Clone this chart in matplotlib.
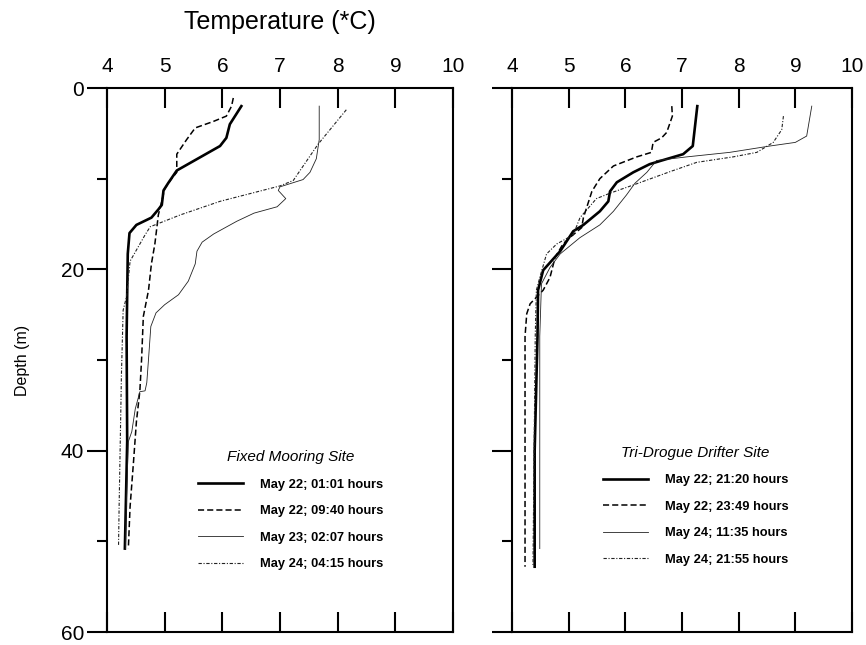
import matplotlib
matplotlib.use("Agg")
import matplotlib.pyplot as plt
from matplotlib.ticker import MultipleLocator

plt.rcParams["font.family"] = ["Liberation Sans", "DejaVu Sans"]

# ---- Fixed mooring site profiles (temperature degC, depth m) ----
fm_0101_T = [6.33, 6.22, 6.13, 6.07, 5.96, 5.21, 5.06, 4.98, 4.95, 4.89, 4.77, 4.51, 4.39, 4.36, 4.34, 4.35, 4.33, 4.31]
fm_0101_D = [2.0, 3.1, 4.0, 5.5, 6.4, 9.1, 10.5, 11.3, 12.9, 13.4, 14.3, 15.1, 16.0, 18.3, 27.4, 39.0, 45.0, 50.8]

fm_0940_T = [6.19, 6.16, 6.07, 5.84, 5.53, 5.38, 5.21, 5.21, 5.12, 5.00, 4.95, 4.89, 4.87, 4.83, 4.77, 4.72, 4.63, 4.60, 4.57, 4.51, 4.46, 4.40, 4.37]
fm_0940_D = [1.1, 2.0, 3.1, 3.7, 4.4, 5.7, 7.3, 9.3, 10.0, 11.1, 12.5, 14.0, 15.1, 17.2, 19.4, 22.3, 25.2, 29.9, 33.4, 36.8, 41.2, 46.2, 50.8]

fm_0207_T = [7.68, 7.68, 7.63, 7.52, 7.40, 7.00, 6.97, 7.10, 6.95, 6.55, 6.25, 5.85, 5.65, 5.56, 5.53, 5.41, 5.24, 5.00, 4.85, 4.76, 4.72, 4.69, 4.66, 4.57, 4.49, 4.43, 4.37, 4.34, 4.32]
fm_0207_D = [2.0, 5.7, 7.8, 9.3, 10.1, 10.9, 11.3, 12.2, 13.1, 13.8, 14.7, 16.1, 17.0, 18.0, 19.4, 21.3, 22.8, 23.9, 24.8, 26.3, 29.9, 32.5, 33.4, 33.5, 35.4, 37.9, 39.0, 45.0, 50.8]

fm_0415_T = [8.15, 7.66, 7.23, 7.00, 5.96, 5.27, 4.75, 4.66, 4.40, 4.34, 4.28, 4.25, 4.23, 4.21, 4.20]
fm_0415_D = [2.4, 6.2, 10.2, 10.8, 12.5, 14.0, 15.3, 16.2, 19.1, 23.0, 24.5, 31.7, 39.0, 46.2, 50.5]

# ---- Tri-drogue drifter site profiles ----
td_2120_T = [7.27, 7.19, 7.02, 6.64, 6.43, 6.14, 5.85, 5.73, 5.70, 5.55, 5.26, 5.08, 4.85, 4.55, 4.46, 4.45, 4.40, 4.40]
td_2120_D = [2.0, 6.4, 7.3, 8.0, 8.4, 9.3, 10.4, 11.4, 12.5, 13.6, 15.1, 15.8, 18.0, 20.1, 22.3, 27.4, 40.0, 52.8]

td_2349_T = [6.82, 6.83, 6.73, 6.64, 6.49, 6.46, 6.20, 5.79, 5.55, 5.41, 5.26, 5.23, 5.02, 4.90, 4.76, 4.67, 4.55, 4.32, 4.26, 4.23, 4.23]
td_2349_D = [2.0, 3.1, 4.9, 5.5, 6.0, 7.1, 7.6, 8.6, 10.0, 11.4, 14.3, 15.4, 16.5, 17.2, 18.7, 20.9, 22.3, 23.8, 24.9, 27.4, 52.8]

td_1135_T = [9.29, 9.26, 9.20, 9.00, 8.55, 7.84, 7.08, 6.55, 6.38, 6.17, 6.02, 5.79, 5.55, 5.20, 4.85, 4.67, 4.52, 4.49, 4.49]
td_1135_D = [2.0, 3.1, 5.3, 6.0, 6.4, 7.1, 7.6, 8.0, 9.3, 10.5, 11.8, 13.6, 15.1, 16.5, 18.3, 19.8, 21.6, 27.4, 50.8]

td_2155_T = [8.79, 8.76, 8.61, 8.32, 7.90, 7.26, 6.80, 6.14, 5.73, 5.49, 5.20, 5.08, 4.79, 4.61, 4.49, 4.43, 4.41, 4.37]
td_2155_D = [3.1, 4.6, 6.0, 7.1, 7.6, 8.2, 9.2, 10.7, 11.6, 12.2, 14.3, 16.2, 17.2, 18.3, 20.9, 22.3, 27.4, 52.8]

fm_labels = ["May 22; 01:01 hours", "May 22; 09:40 hours", "May 23; 02:07 hours", "May 24; 04:15 hours"]
td_labels = ["May 22; 21:20 hours", "May 22; 23:49 hours", "May 24; 11:35 hours", "May 24; 21:55 hours"]

temp_ticks = [4, 5, 6, 7, 8, 9, 10]
depth_ticks = [0, 20, 40, 60]

# line styles: thick solid, dashed, thin solid, fine dash-dot
styles = [
    dict(color="black", lw=1.9, ls="-"),
    dict(color="black", lw=1.1, ls=(0, (4, 2))),
    dict(color="#222222", lw=0.6, ls="-"),
    dict(color="#222222", lw=0.8, ls=(0, (3, 1.5, 1, 1.5))),
]

W, H = 866, 645
fig = plt.figure(figsize=(W / 100, H / 100), dpi=100)

ax1 = fig.add_axes([107 / W, 1 - 632 / H, 346 / W, 544 / H])
ax2 = fig.add_axes([512 / W, 1 - 632 / H, 340 / W, 544 / H])


def style_axes(ax, show_ylabels):
    ax.set_xlim(4, 10)
    ax.set_ylim(60, 0)
    for s in ax.spines.values():
        s.set_linewidth(1.5)
    ax.set_xticks(temp_ticks)
    ax.xaxis.set_ticks_position("both")
    ax.tick_params(axis="x", which="major", direction="in", length=14.4, width=1.5,
                   labeltop=True, labelbottom=False, labelsize=15, pad=9)
    ax.set_yticks(depth_ticks)
    ax.yaxis.set_minor_locator(MultipleLocator(10))
    ax.tick_params(axis="y", which="major", direction="out", length=14.4, width=1.5,
                   labelleft=show_ylabels, labelsize=15, pad=2)
    ax.tick_params(axis="y", which="minor", direction="out", length=7.2, width=1.5)


series_fm = [(fm_0101_T, fm_0101_D), (fm_0940_T, fm_0940_D), (fm_0207_T, fm_0207_D), (fm_0415_T, fm_0415_D)]
series_td = [(td_2120_T, td_2120_D), (td_2349_T, td_2349_D), (td_1135_T, td_1135_D), (td_2155_T, td_2155_D)]

for (t, d), lab, st in zip(series_fm, fm_labels, styles):
    ax1.plot(t, d, label=lab, **st)
for (t, d), lab, st in zip(series_td, td_labels, styles):
    ax2.plot(t, d, label=lab, **st)

style_axes(ax1, True)
style_axes(ax2, False)

leg_kw = dict(frameon=False, loc="center", handlelength=3.5, handletextpad=1.3,
              labelspacing=1.12, prop={"weight": "bold", "size": 9.3},
              title_fontproperties={"style": "italic", "size": 11})
ax1.legend(title="Fixed Mooring Site", bbox_to_anchor=(0.531, 0.224), **leg_kw)
ax2.legend(title="Tri-Drogue Drifter Site", bbox_to_anchor=(0.540, 0.232), **leg_kw)

fig.text(280 / W, 1 - 22 / H, "Temperature (*C)", fontsize=18, ha="center", va="center")
fig.text(22 / W, 1 - 360 / H, "Depth (m)", fontsize=11.5, rotation=90, ha="center", va="center")

fig.savefig("out.png", dpi=100)
